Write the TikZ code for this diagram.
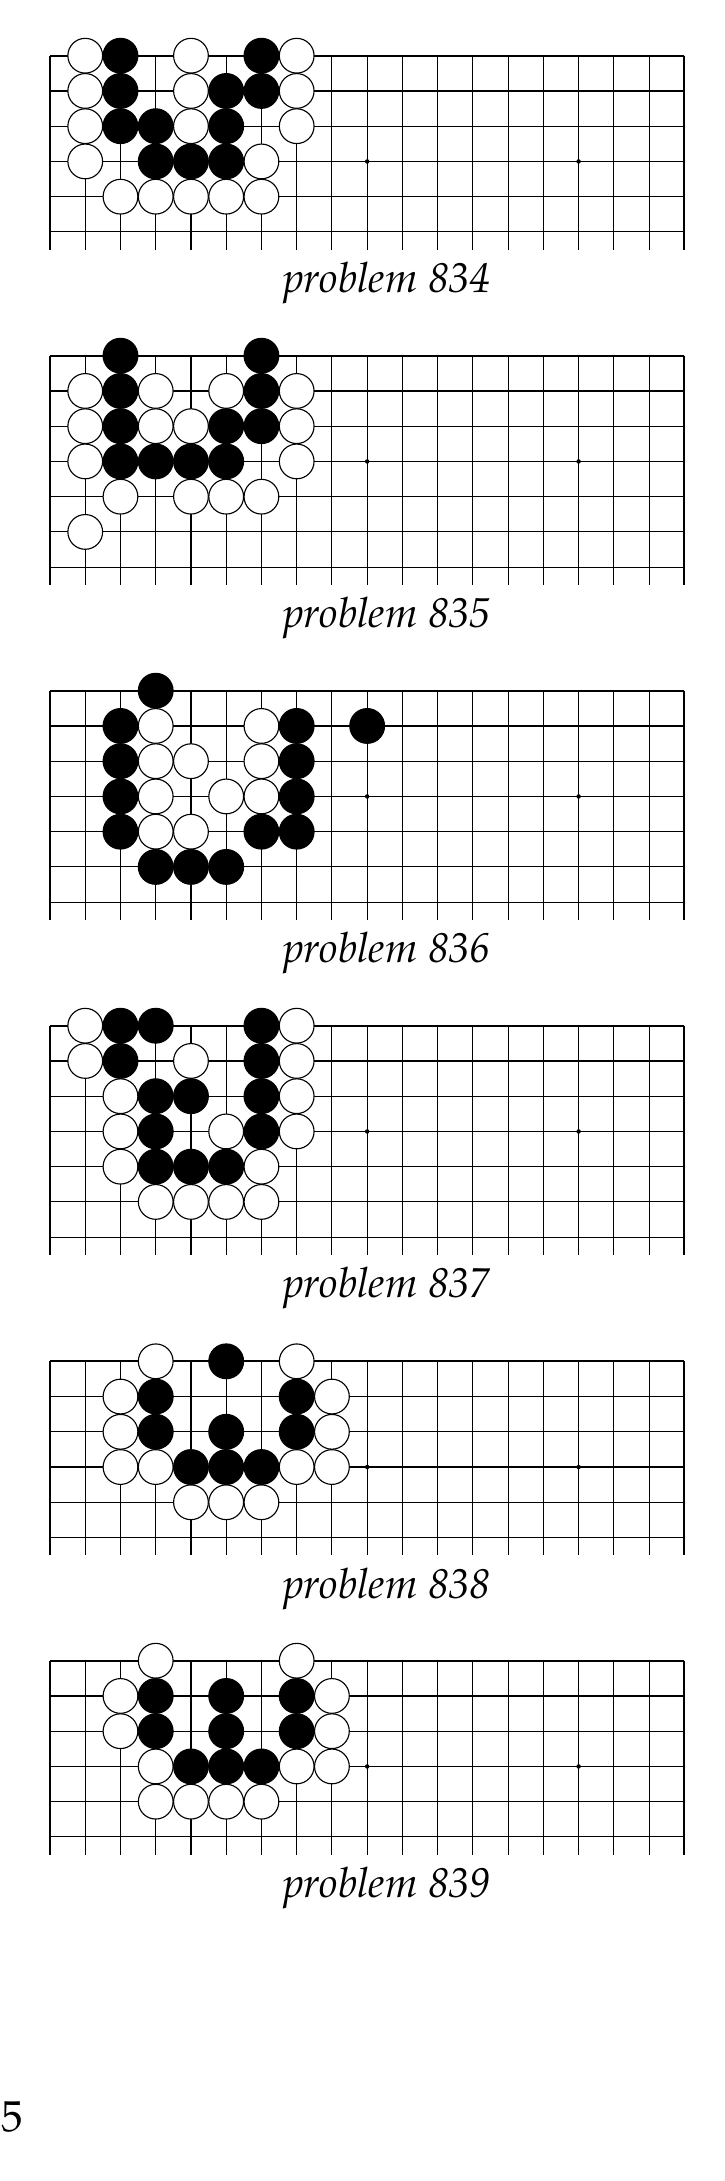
\documentclass[tikz,border=0pt]{standalone}
\usepackage[T1]{fontenc}
\usepackage{mathpazo}
\tikzset{
  gridline/.style={line width=0.45pt},
  edgeline/.style={line width=0.9pt},
  wst/.style={circle, draw=black, fill=white, line width=0.45pt, minimum size=13.9pt, inner sep=0pt},
  bst/.style={circle, draw=black, fill=black, line width=0.45pt, minimum size=13.9pt, inner sep=0pt},
  hoshi/.style={circle, fill=black, minimum size=1.8pt, inner sep=0pt},
  caption/.style={font=\fontsize{16.7}{20}\selectfont\itshape, anchor=base, inner sep=0pt},
  boardunit/.style={x=14.096pt, y=-14.096pt},
}
\newcommand\drawgrid[3]{%
  \foreach \r in {0,...,#1} \draw[gridline] (0,\r) -- (18,\r);
  \pgfmathsetmacro\vb{#1+0.5}
  \foreach \c in {0,...,18} \draw[gridline] (\c,0) -- (\c,\vb);
  \draw[edgeline] (0,0) -- (18,0);
  \draw[edgeline] (18,0) -- (18,\vb);
  \foreach \c in {3,9,15} \node[hoshi] (#2h\c) at (\c,3) {};
  \node[caption] (#2cap) at (9.56,\vb+1.22) {problem #3};
}
\begin{document}
\begin{tikzpicture}[x=0.4pt, y=-0.4pt]
\useasboundingbox (0,0) rectangle (725,2181);

% problem 834
\begin{scope}[shift={(50,55.7)}, boardunit]
  \drawgrid{5}{a}{834}
  \foreach \c/\r in {1/0,4/0,7/0,1/1,4/1,7/1,1/2,4/2,7/2,1/3,6/3,2/4,3/4,4/4,5/4,6/4}
    \node[wst] (aw\c-\r) at (\c,\r) {};
  \foreach \c/\r in {2/0,6/0,2/1,5/1,6/1,2/2,3/2,5/2,3/3,4/3,5/3}
    \node[bst] (ab\c-\r) at (\c,\r) {};
\end{scope}

% problem 835
\begin{scope}[shift={(50,355.7)}, boardunit]
  \drawgrid{6}{b}{835}
  \foreach \c/\r in {1/1,3/1,5/1,7/1,1/2,3/2,4/2,7/2,1/3,7/3,2/4,4/4,5/4,6/4,1/5}
    \node[wst] (bw\c-\r) at (\c,\r) {};
  \foreach \c/\r in {2/0,6/0,2/1,6/1,2/2,5/2,6/2,2/3,3/3,4/3,5/3}
    \node[bst] (bb\c-\r) at (\c,\r) {};
\end{scope}

% problem 836
\begin{scope}[shift={(50,690.7)}, boardunit]
  \drawgrid{6}{c}{836}
  \foreach \c/\r in {3/1,6/1,3/2,4/2,6/2,3/3,5/3,6/3,3/4,4/4}
    \node[wst] (cw\c-\r) at (\c,\r) {};
  \foreach \c/\r in {3/0,2/1,7/1,9/1,2/2,7/2,2/3,7/3,2/4,6/4,7/4,3/5,4/5,5/5}
    \node[bst] (cb\c-\r) at (\c,\r) {};
\end{scope}

% problem 837
\begin{scope}[shift={(50,1025.7)}, boardunit]
  \drawgrid{6}{d}{837}
  \foreach \c/\r in {1/0,7/0,1/1,4/1,7/1,2/2,7/2,2/3,5/3,7/3,2/4,6/4,3/5,4/5,5/5,6/5}
    \node[wst] (dw\c-\r) at (\c,\r) {};
  \foreach \c/\r in {2/0,3/0,6/0,2/1,6/1,3/2,4/2,6/2,3/3,6/3,3/4,4/4,5/4}
    \node[bst] (db\c-\r) at (\c,\r) {};
\end{scope}

% problem 838
\begin{scope}[shift={(50,1361.3)}, boardunit]
  \drawgrid{5}{e}{838}
  \foreach \c/\r in {3/0,7/0,2/1,8/1,2/2,8/2,2/3,3/3,7/3,8/3,4/4,5/4,6/4}
    \node[wst] (ew\c-\r) at (\c,\r) {};
  \foreach \c/\r in {5/0,3/1,7/1,3/2,5/2,7/2,4/3,5/3,6/3}
    \node[bst] (eb\c-\r) at (\c,\r) {};
\end{scope}

% problem 839
\begin{scope}[shift={(50,1660.7)}, boardunit]
  \drawgrid{5}{f}{839}
  \foreach \c/\r in {3/0,7/0,2/1,8/1,2/2,8/2,3/3,7/3,8/3,3/4,4/4,5/4,6/4}
    \node[wst] (fw\c-\r) at (\c,\r) {};
  \foreach \c/\r in {3/1,5/1,7/1,3/2,5/2,7/2,4/3,5/3,6/3}
    \node[bst] (fb\c-\r) at (\c,\r) {};
\end{scope}

\node[anchor=base west, inner sep=0pt, font=\fontsize{17.3}{20}\selectfont] (pnum) at (1,2131) {5};
\end{tikzpicture}
\end{document}
